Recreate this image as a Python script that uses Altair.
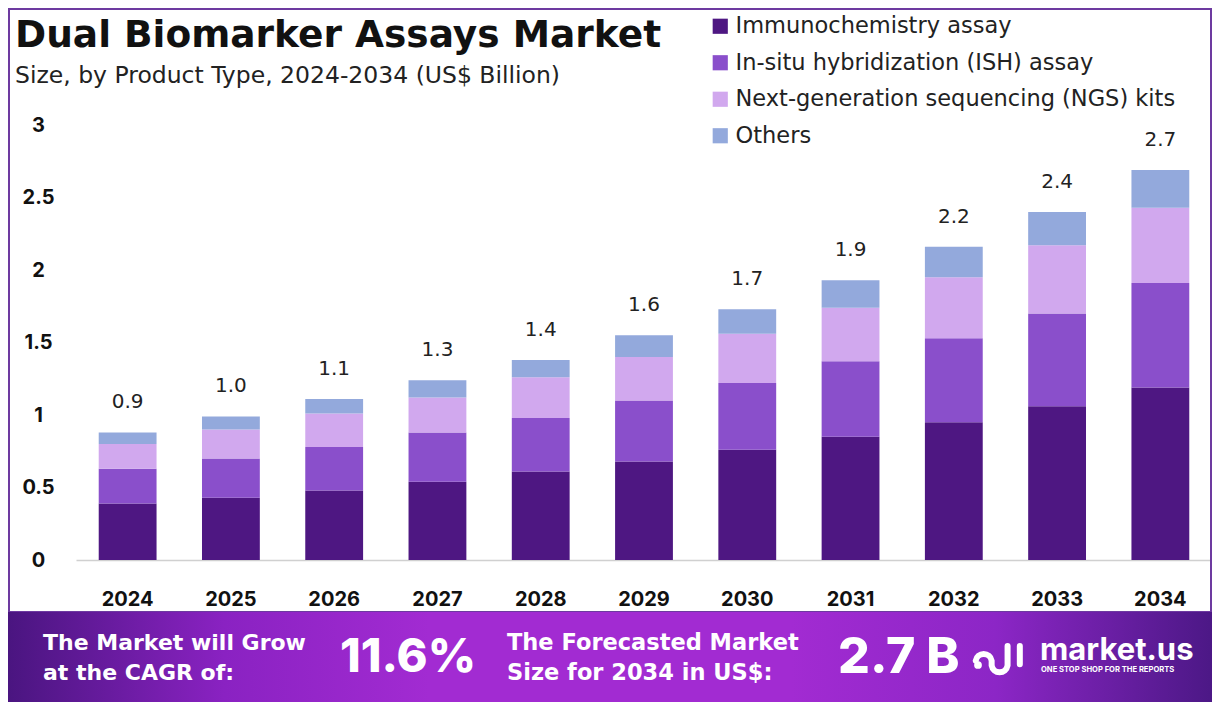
import altair as alt
import pandas as pd

years = ["2024", "2025", "2026", "2027", "2028", "2029", "2030", "2031", "2032", "2033", "2034"]
immuno = [0.39, 0.43, 0.48, 0.54, 0.61, 0.68, 0.76, 0.85, 0.95, 1.06, 1.19]
ish = [0.24, 0.27, 0.30, 0.34, 0.37, 0.42, 0.46, 0.52, 0.58, 0.64, 0.72]
ngs = [0.17, 0.20, 0.23, 0.24, 0.28, 0.30, 0.34, 0.37, 0.42, 0.47, 0.52]
others = [0.08, 0.09, 0.10, 0.12, 0.12, 0.15, 0.17, 0.19, 0.21, 0.23, 0.26]
total_labels = ["0.9", "1.0", "1.1", "1.3", "1.4", "1.6", "1.7", "1.9", "2.2", "2.4", "2.7"]
segments = ["Immunochemistry assay", "In-situ hybridization (ISH) assay",
            "Next-generation sequencing (NGS) kits", "Others"]
colors = ["#4e1782", "#8a4fcb", "#d1a8ee", "#93a9dc"]
y_ticks = [0, 0.5, 1, 1.5, 2, 2.5, 3]

FONT = "Inter"
WIDE = "DejaVu Sans"
W, H = 1136, 435

rows = []
for i, y in enumerate(years):
    for k, (name, vals) in enumerate(zip(segments, [immuno, ish, ngs, others])):
        rows.append({"year": y, "segment": name, "value": vals[i], "order": k})
df = pd.DataFrame(rows)
tot = pd.DataFrame({"year": years,
                    "total": [a + b + c + d for a, b, c, d in zip(immuno, ish, ngs, others)],
                    "label": total_labels})

xenc = alt.X("year:N", sort=years, title=None,
             scale=alt.Scale(paddingInner=0.44, paddingOuter=0.22),
             axis=alt.Axis(labelAngle=0, labelFont=FONT, labelFontSize=20, labelFontWeight="bold",
                           labelColor="#111", ticks=False, labelPadding=29, domainColor="#d0d0d0",
                           domainWidth=1.5))
yscale = alt.Scale(domain=[0, 3], nice=False)

bars = alt.Chart(df).mark_bar().encode(
    x=xenc,
    y=alt.Y("value:Q", stack="zero", scale=yscale, title=None,
            axis=alt.Axis(values=y_ticks, grid=False, domain=False, ticks=False,
                          labelFont=FONT, labelFontSize=20, labelFontWeight="bold",
                          labelColor="#111", labelAlign="center", labelPadding=38,
                          labelExpr="datum.value")),
    color=alt.Color("segment:N", sort=segments,
                    scale=alt.Scale(domain=segments, range=colors),
                    legend=alt.Legend(title=None, orient="none", legendX=633, legendY=-110,
                                      symbolType="square", symbolSize=230, labelFont=WIDE,
                                      labelFontSize=22.5, labelColor="#222", rowPadding=13.5,
                                      labelOffset=4, labelLimit=600, padding=0)),
    order=alt.Order("order:Q", sort="ascending"),
)

labels = alt.Chart(tot).mark_text(font=WIDE, fontSize=20, color="#222", dy=-30).encode(
    x=alt.X("year:N", sort=years),
    y=alt.Y("total:Q", scale=yscale),
    text="label:N",
)

one = pd.DataFrame({"a": [0]})
base = alt.Chart(one)

def px(v):
    return alt.value(v)

border = base.mark_rect(fillOpacity=0, fill="white", stroke="#6d3aa0", strokeOpacity=1,
                        strokeWidth=2).encode(
    x=px(-67), x2=px(1135), y=px(-116), y2=px(487))

banner = base.mark_rect(color={
    "gradient": "linear", "x1": 0, "y1": 0, "x2": 1, "y2": 0,
    "stops": [
        {"offset": 0.0, "color": "#4a1580"},
        {"offset": 0.18, "color": "#8a22c2"},
        {"offset": 0.35, "color": "#a22bd2"},
        {"offset": 0.65, "color": "#a22bd2"},
        {"offset": 0.82, "color": "#8c26c6"},
        {"offset": 1.0, "color": "#4c1886"},
    ]}).encode(x=px(-68), x2=px(1136), y=px(487), y2=px(577))

def txt(t, x, y, size, weight="normal", color="#111", align="left", font=FONT):
    d = pd.DataFrame({"t": [t]})
    return alt.Chart(d).mark_text(font=font, fontSize=size, fontWeight=weight, color=color,
                                  align=align, baseline="middle").encode(
        x=px(x), y=px(y), text="t:N")

texts = [
    txt("Dual Biomarker Assays Market", -61, -89, 37.5, weight="bold", font=WIDE),
    txt("Size, by Product Type, 2024-2034 (US$ Billion)", -61, -49, 23.5, color="#222", font=WIDE),
    txt("The Market will Grow", -33, 518, 22, weight="bold", color="white", font=WIDE),
    txt("at the CAGR of:", -33, 548, 22, weight="bold", color="white", font=WIDE),
    txt("11.6%", 264, 533, 47, weight=800, color="white"),
    txt("The Forecasted Market", 431, 518, 22.5, weight="bold", color="white", font=WIDE),
    txt("Size for 2034 in US$:", 431, 548, 22.5, weight="bold", color="white", font=WIDE),
    txt("2.7 B", 762, 533, 50, weight=800, color="white"),
    txt("market.us", 964, 526, 31, weight="bold", color="white"),
    txt("ONE STOP SHOP FOR THE REPORTS", 965, 545, 7.6, weight="bold", color="white"),
]

icon_path = ("M -0.95 0.15 A 0.33 0.33 0 0 1 -0.3 0.15 L -0.3 0.35 "
             "A 0.33 0.33 0 0 0 0.35 0.35 L 0.35 -0.45 M 0.85 -0.45 L 0.85 0.3")
icon = base.mark_point(shape=icon_path, filled=False, stroke="white", strokeWidth=6,
                       strokeCap="round", size=2400, opacity=1).encode(x=px(923), y=px(532))
dot = base.mark_point(shape="circle", filled=True, color="white", size=60, opacity=1).encode(
    x=px(902), y=px(540))

chart = alt.layer(border, banner, bars, labels, icon, dot, *texts).properties(
    width=W, height=H,
    background="white",
    autosize=alt.AutoSizeParams(type="none"),
    padding={"left": 68, "top": 117, "right": 0, "bottom": 142},
).configure_view(strokeWidth=0, stroke="transparent")

chart.save("out.html", embed_options={"renderer": "svg", "actions": False})
